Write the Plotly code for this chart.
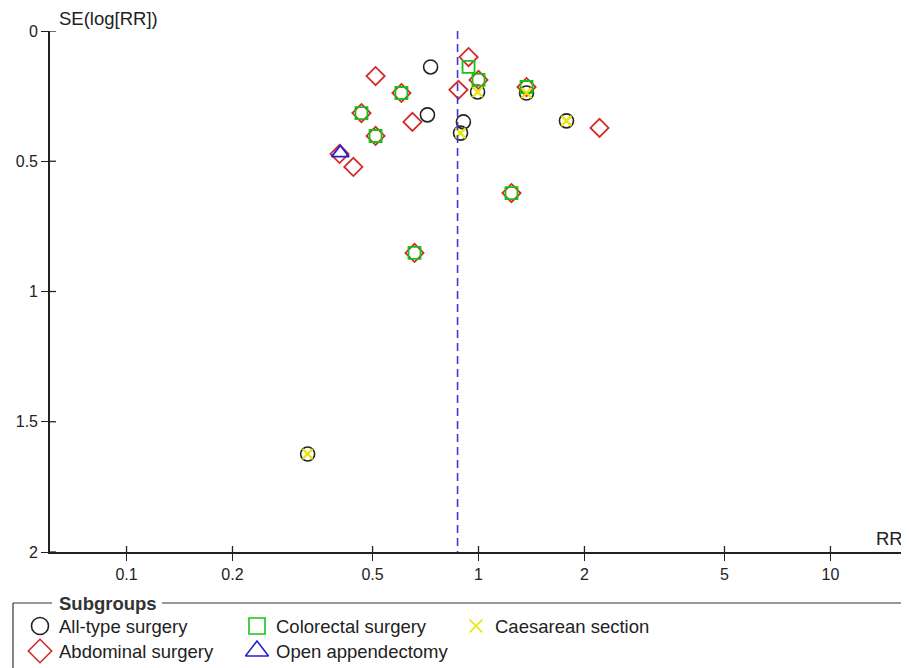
import math
import plotly.graph_objects as go

W, H = 909, 668          # reference canvas size
OFF = 8                  # page body margin offset of the rendered figure
FW, FH = W - OFF, H - OFF

# ---------------- data ----------------
pooled_rr = 0.872

alltype_rr = [0.731, 0.994, 1.369, 0.716, 0.906, 0.889, 1.778, 0.327]
alltype_se = [0.138, 0.234, 0.238, 0.322, 0.349, 0.392, 0.345, 1.624]

abdominal_rr = [0.937, 0.510, 0.604, 1.000, 0.877, 1.369, 0.465, 0.649,
                0.510, 2.207, 0.403, 0.441, 1.241, 0.658]
abdominal_se = [0.100, 0.173, 0.238, 0.188, 0.226, 0.215, 0.315, 0.349,
                0.403, 0.372, 0.472, 0.522, 0.622, 0.852]

colorectal_rr = [0.937, 1.000, 1.369, 0.604, 0.465, 0.510, 1.241, 0.658]
colorectal_se = [0.138, 0.188, 0.215, 0.238, 0.315, 0.403, 0.622, 0.852]

appendectomy_rr = [0.405]
appendectomy_se = [0.468]

caesarean_rr = [0.994, 1.369, 0.889, 1.778, 0.327]
caesarean_se = [0.234, 0.238, 0.392, 0.345, 1.624]

x_tick_vals = [0.1, 0.2, 0.5, 1, 2, 5, 10]
x_tick_text = ["0.1", "0.2", "0.5", "1", "2", "5", "10"]
y_tick_vals = [0, 0.5, 1, 1.5, 2]
y_tick_text = ["0", "0.5", "1", "1.5", "2"]

subgroup_names = ["All-type surgery", "Colorectal surgery", "Caesarean section",
                  "Abdominal surgery", "Open appendectomy"]

# ---------------- styles ----------------
FONT = "Liberation Sans, Arial, sans-serif"
TXT = 18.5
C_BLACK = "#222222"
C_RED = "#d42a2a"
C_GREEN = "#17c217"
C_YELLOW = "#e6e600"
C_BLUE = "#2222cc"
C_DASH = "#3a3ad6"

fig = go.Figure()

def add_series(xs, ys, symbol, color, size, width):
    fig.add_trace(go.Scatter(
        x=xs, y=ys, mode="markers", showlegend=False, hoverinfo="x+y",
        marker=dict(symbol=symbol, size=size, color=color,
                    line=dict(color=color, width=width)),
        xaxis="x", yaxis="y"))

add_series(alltype_rr, alltype_se, "circle-open", C_BLACK, 14, 1.6)
add_series(abdominal_rr, abdominal_se, "diamond-open", C_RED, 14, 1.8)
add_series(colorectal_rr, colorectal_se, "square-open", C_GREEN, 12, 1.8)
add_series(appendectomy_rr, appendectomy_se, "triangle-up-open", C_BLUE, 15, 1.8)
add_series(caesarean_rr, caesarean_se, "x-thin-open", C_YELLOW, 10, 2.2)

# ---------------- legend (drawn on a pixel-scaled overlay axis) ----------------
legend_items = [
    (subgroup_names[0], "circle-open", C_BLACK, 17, 40, 626),
    (subgroup_names[1], "square-open", C_GREEN, 16, 257, 626),
    (subgroup_names[2], "x-thin-open", C_YELLOW, 13, 476, 626),
    (subgroup_names[3], "diamond-open", C_RED, 18, 40, 651),
    (subgroup_names[4], "triangle-up-open", C_BLUE, 20, 257, 651),
]
for name, sym, col, sz, lx, ly in legend_items:
    fig.add_trace(go.Scatter(
        x=[lx], y=[ly], mode="markers", showlegend=False, hoverinfo="skip",
        marker=dict(symbol=sym, size=sz, color=col, line=dict(color=col, width=1.6)),
        xaxis="x2", yaxis="y2"))

annotations = []
for name, sym, col, sz, lx, ly in legend_items:
    annotations.append(dict(x=lx + 17, y=ly, xref="x2", yref="y2", text=name,
                            showarrow=False, xanchor="left", yanchor="middle",
                            font=dict(family=FONT, size=TXT, color="#222")))
annotations.append(dict(x=57, y=603, xref="x2", yref="y2", text="<b>Subgroups</b>",
                        showarrow=False, xanchor="left", yanchor="middle",
                        font=dict(family=FONT, size=TXT, color="#333")))
annotations.append(dict(x=57, y=18, xref="x2", yref="y2", text="SE(log[RR])",
                        showarrow=False, xanchor="left", yanchor="middle",
                        font=dict(family=FONT, size=TXT, color="#222")))
annotations.append(dict(x=905, y=538, xref="x2", yref="y2", text="RR",
                        showarrow=False, xanchor="right", yanchor="middle",
                        font=dict(family=FONT, size=TXT, color="#222")))

box = dict(color="#333333", width=1.2)
tick_line = dict(color="#222", width=1.3)
shapes = [
    dict(type="line", xref="x", yref="y", x0=pooled_rr, x1=pooled_rr, y0=0, y1=2,
         line=dict(color=C_DASH, width=1.6, dash="8px,5px")),
    dict(type="line", xref="x2", yref="y2", x0=13, x1=13, y0=603, y1=670, line=box),
    dict(type="line", xref="x2", yref="y2", x0=13, x1=52, y0=603, y1=603, line=box),
    dict(type="line", xref="x2", yref="y2", x0=162, x1=907, y0=603, y1=603, line=box),
    dict(type="line", xref="x2", yref="y2", x0=907, x1=907, y0=603, y1=670, line=box),
]
# inner halves of the crossing ticks
for v in y_tick_vals:
    shapes.append(dict(type="line", xref="x2", yref="y", x0=50, x1=56, y0=v, y1=v,
                       line=tick_line))
for v in x_tick_vals:
    shapes.append(dict(type="line", xref="x", yref="y2", x0=v, x1=v, y0=546, y1=552,
                       line=tick_line))

half = math.log10(16.5)
fig.update_layout(
    width=FW, height=FH,
    margin=dict(l=0, r=0, t=0, b=0, autoexpand=False),
    paper_bgcolor="white", plot_bgcolor="rgba(0,0,0,0)",
    font=dict(family=FONT, size=16, color="#222"),
    xaxis=dict(type="log", range=[-half, half],
               domain=[(50 - OFF) / FW, (907 - OFF) / FW],
               anchor="y", tickvals=x_tick_vals, ticktext=x_tick_text,
               ticks="outside", ticklen=7, tickwidth=1.3, tickcolor="#222",
               showline=True, linecolor="#222", linewidth=1.6,
               showgrid=False, zeroline=False, automargin=False,
               tickfont=dict(family=FONT, size=16, color="#222")),
    yaxis=dict(range=[2, 0], domain=[(H - 552) / FH, (H - 31) / FH],
               anchor="x", tickvals=y_tick_vals, ticktext=y_tick_text,
               ticks="outside", ticklen=7, tickwidth=1.3, tickcolor="#222",
               showline=True, linecolor="#222", linewidth=1.6,
               showgrid=False, zeroline=False, automargin=False,
               tickfont=dict(family=FONT, size=16, color="#222")),
    xaxis2=dict(domain=[0, 1], range=[OFF, W], anchor="y2", visible=False,
                fixedrange=True),
    yaxis2=dict(domain=[0, 1], range=[H, OFF], anchor="x2", visible=False,
                fixedrange=True),
    annotations=annotations,
    shapes=shapes,
    showlegend=False,
)

fig.write_html("out.html")
